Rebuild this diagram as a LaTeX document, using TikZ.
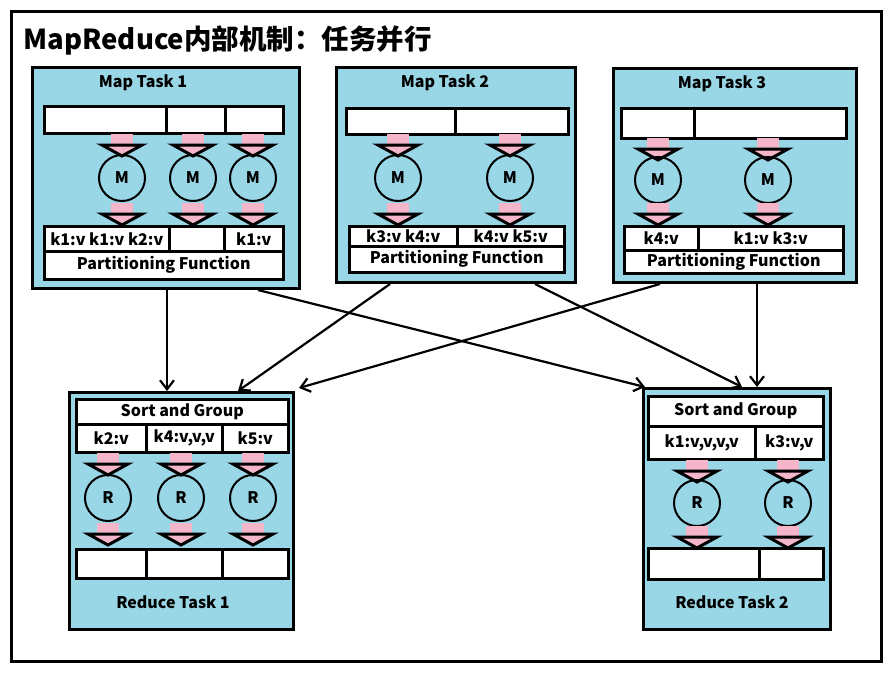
\documentclass[tikz,border=0pt]{standalone}
\usepackage{fontspec}
\setmainfont{Noto Sans CJK SC}
\usetikzlibrary{arrows.meta}

\definecolor{taskblue}{RGB}{153,214,230}
\definecolor{arrowpink}{RGB}{245,182,202}
\newcommand{\labfont}{\fontsize{16}{19}\selectfont\bfseries}

\tikzset{
  taskbox/.style={draw, line width=3pt, fill=taskblue, anchor=north west, inner sep=0pt},
  cell/.style={draw, line width=2.5pt, fill=white, anchor=north west, inner sep=0pt, font=\labfont},
  worker/.style={circle, draw, line width=2pt, minimum size=46pt, inner sep=0pt, font=\labfont},
  tasktitle/.style={font=\labfont},
  flow/.style={-{Straight Barb[length=9pt,width=14pt]}, line width=2.2pt},
  pinkdown/.pic={
    \fill[arrowpink] (-11,0) rectangle (11,12);
    \filldraw[fill=arrowpink, line width=3pt, line join=miter] (-20,11) -- (20,11) -- (0,22) -- cycle;
  }
}

\begin{document}
\begin{tikzpicture}[x=1pt,y=-1pt]
\useasboundingbox (0,0) rectangle (890,675);
\node[draw, line width=3pt, minimum width=870pt, minimum height=650pt, anchor=north west, inner sep=0pt] (frame) at (10,10) {};
\node[font=\fontsize{27.5}{32}\selectfont\bfseries, anchor=west] (title) at (20,40) {MapReduce内部机制：任务并行};

% map task 1
\node[taskbox, minimum width=267pt, minimum height=221pt] (map1) at (31,66) {};
\node[tasktitle] (map1title) at (143,83) {Map Task 1};
\node[cell, minimum width=122pt, minimum height=27pt] (m1in1) at (43,105) {};
\node[cell, minimum width=59pt, minimum height=27pt] (m1in2) at (165,105) {};
\node[cell, minimum width=58pt, minimum height=27pt] (m1in3) at (224,105) {};
\node[cell, minimum width=125pt, minimum height=25pt] (m1out1) at (43,225) {k1:v k1:v k2:v};
\node[cell, minimum width=55pt, minimum height=25pt] (m1out2) at (168,225) {};
\node[cell, minimum width=59pt, minimum height=25pt] (m1out3) at (223,225) {k1:v};
\node[cell, minimum width=239pt, minimum height=28pt] (m1part) at (43,250) {Partitioning Function};
\foreach \x/\n in {122/1,193/2,253/3} {
  \pic at (\x,134) {pinkdown};
  \node[worker] (m1w\n) at (\x,178) {M};
  \pic at (\x,203) {pinkdown};
}

% map task 2
\node[taskbox, minimum width=239pt, minimum height=215pt] (map2) at (335,66) {};
\node[tasktitle] (map2title) at (445,83) {Map Task 2};
\node[cell, minimum width=109pt, minimum height=26pt] (m2in1) at (345,107) {};
\node[cell, minimum width=113pt, minimum height=26pt] (m2in2) at (454,107) {};
\node[cell, minimum width=108pt, minimum height=20pt] (m2out1) at (348,225) {k3:v k4:v};
\node[cell, minimum width=107pt, minimum height=20pt] (m2out2) at (456,225) {k4:v k5:v};
\node[cell, minimum width=215pt, minimum height=26pt] (m2part) at (348,245) {Partitioning Function};
\foreach \x/\n in {398/1,510/2} {
  \pic at (\x,134) {pinkdown};
  \node[worker] (m2w\n) at (\x,178) {M};
  \pic at (\x,203) {pinkdown};
}

% map task 3
\node[taskbox, minimum width=243pt, minimum height=214pt] (map3) at (612,67) {};
\node[tasktitle] (map3title) at (722,84) {Map Task 3};
\node[cell, minimum width=73pt, minimum height=30pt] (m3in1) at (620,107) {};
\node[cell, minimum width=152pt, minimum height=30pt] (m3in2) at (693,107) {};
\node[cell, minimum width=74pt, minimum height=24pt] (m3out1) at (623,225) {k4:v};
\node[cell, minimum width=145pt, minimum height=24pt] (m3out2) at (697,225) {k1:v k3:v};
\node[cell, minimum width=219pt, minimum height=23pt] (m3part) at (623,249) {Partitioning Function};
\foreach \x/\n in {658/1,768/2} {
  \pic at (\x,138) {pinkdown};
  \node[worker] (m3w\n) at (\x,180) {M};
  \pic at (\x,203) {pinkdown};
}

% reduce task 1
\node[taskbox, minimum width=224pt, minimum height=237pt] (red1) at (68,391) {};
\node[cell, minimum width=212pt, minimum height=25pt] (r1sort) at (75,398) {Sort and Group};
\node[cell, minimum width=70pt, minimum height=28pt] (r1key1) at (75,423) {k2:v};
\node[cell, minimum width=76pt, minimum height=28pt] (r1key2) at (145,423) {k4:v,v,v};
\node[cell, minimum width=66pt, minimum height=28pt] (r1key3) at (221,423) {k5:v};
\node[cell, minimum width=70pt, minimum height=29pt] (r1out1) at (75,548) {};
\node[cell, minimum width=76pt, minimum height=29pt] (r1out2) at (145,548) {};
\node[cell, minimum width=66pt, minimum height=29pt] (r1out3) at (221,548) {};
\foreach \x/\n in {108/1,181/2,253/3} {
  \pic at (\x,453) {pinkdown};
  \node[worker] (r1w\n) at (\x,498) {R};
  \pic at (\x,523) {pinkdown};
}
\node[tasktitle] (red1title) at (173,602) {Reduce Task 1};

% reduce task 2
\node[taskbox, minimum width=187pt, minimum height=241pt] (red2) at (642,387) {};
\node[cell, minimum width=175pt, minimum height=30pt] (r2sort) at (647,395) {Sort and Group};
\node[cell, minimum width=107pt, minimum height=33pt] (r2key1) at (647,425) {k1:v,v,v,v};
\node[cell, minimum width=68pt, minimum height=33pt] (r2key2) at (754,425) {k3:v,v};
\node[cell, minimum width=111pt, minimum height=31pt] (r2out1) at (647,547) {};
\node[cell, minimum width=64pt, minimum height=31pt] (r2out2) at (758,547) {};
\foreach \x/\n in {697/1,788/2} {
  \pic at (\x,460) {pinkdown};
  \node[worker] (r2w\n) at (\x,503) {R};
  \pic at (\x,526) {pinkdown};
}
\node[tasktitle] (red2title) at (732,602) {Reduce Task 2};

% shuffle
\draw[flow] ([xshift=136pt]map1.south west) -- ([xshift=99pt]red1.north west);
\draw[flow] ([xshift=227pt]map1.south west) -- ([xshift=3pt]red2.north west);
\draw[flow] ([xshift=55pt]map2.south west) -- ([xshift=170pt]red1.north west);
\draw[flow] ([xshift=200pt]map2.south west) -- ([xshift=100pt]red2.north west);
\draw[flow] ([xshift=48pt]map3.south west) -- ([xshift=4pt,yshift=3pt]red1.north east);
\draw[flow] ([xshift=145pt]map3.south west) -- ([xshift=115pt]red2.north west);
\end{tikzpicture}
\end{document}
